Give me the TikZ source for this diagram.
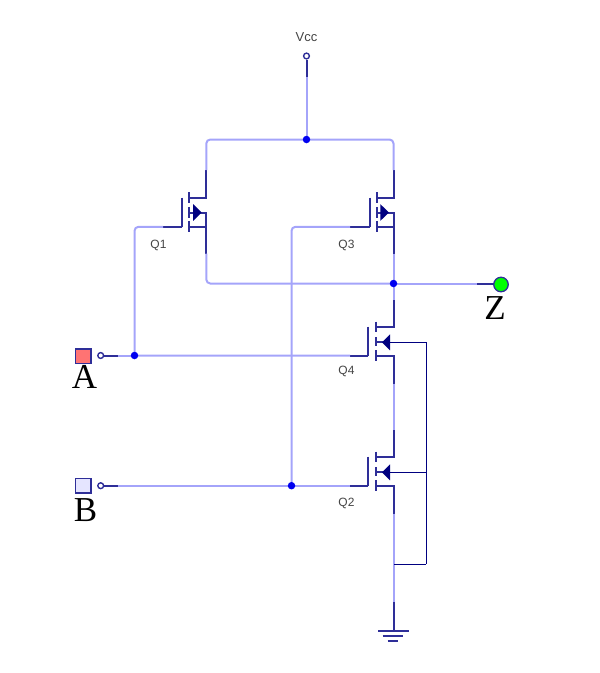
\documentclass[tikz,border=0pt]{standalone}
\usepackage{fontspec}
\setmainfont{Liberation Serif}
\newfontfamily\lblfont{Liberation Sans}
\newfontfamily\bigfont{Liberation Serif}
\definecolor{wirelight}{HTML}{A4A4FA}
\definecolor{wiredark}{HTML}{2E2E98}
\definecolor{bodynavy}{HTML}{000080}
\definecolor{dotblue}{HTML}{0000F0}
\definecolor{tagcolor}{HTML}{444444}
\tikzset{
  wire/.style={draw=wirelight,line width=2pt,rounded corners=4pt},
  lead/.style={draw=wiredark,line width=2pt},
  bodyline/.style={draw=bodynavy,line width=1pt},
  tri/.style={fill=bodynavy,draw=none},
  dot/.style={circle,fill=dotblue,draw=none,inner sep=0pt,minimum size=7.5pt},
  pin/.style={circle,fill=white,draw=wiredark,line width=1.4pt,inner sep=0pt,minimum size=5.8pt},
  port/.style={draw=wiredark,line width=1.5pt,inner sep=0pt,minimum width=15.5pt,minimum height=14.5pt},
  tag/.style={font=\lblfont\fontsize{12}{12}\selectfont,text=tagcolor,inner sep=0pt},
  bigtag/.style={font=\bigfont\fontsize{35}{35}\selectfont,text=black,inner sep=0pt},
  pmosfet/.pic={
    \draw[lead] (-24,0) -- (-24,29.3);
    \draw[lead] (-17,-5.2) -- (-17,5.8);
    \draw[lead] (-17,9.4) -- (-17,20);
    \draw[lead] (-17,23.4) -- (-17,34.4);
    \draw[lead] (0,-27.3) -- (0,0) -- (-17,0);
    \draw[lead] (-17,29.3) -- (0,29.3);
    \draw[lead] (-17,15) -- (0,15) -- (0,56);
    \draw[lead] (-24,29.3) -- (-43.3,29.3);
    \fill[tri] (-13.2,6.6) -- (-4.6,15) -- (-13.2,23.4) -- cycle;
    \coordinate (-d) at (0,-27.3);
    \coordinate (-s) at (0,56);
    \coordinate (-g) at (-43.3,29.3);
  },
  nmosfet/.pic={
    \draw[lead] (-25.2,0) -- (-25.2,29);
    \draw[lead] (-17.8,-5) -- (-17.8,5);
    \draw[lead] (-17.8,10.5) -- (-17.8,19);
    \draw[lead] (-17.8,23.5) -- (-17.8,34.5);
    \draw[lead] (0,-27) -- (0,0) -- (-17.8,0);
    \draw[lead] (-17.8,29) -- (0,29) -- (0,57);
    \draw[lead] (-25.2,29) -- (-43.5,29);
    \draw[lead] (-17.8,15.6) -- (-8,15.6);
    \fill[tri] (-3.5,7.6) -- (-11.5,15.6) -- (-3.5,23.6) -- cycle;
    \coordinate (-d) at (0,-27);
    \coordinate (-s) at (0,57);
    \coordinate (-g) at (-43.5,29);
    \coordinate (-b) at (-3.5,15.6);
  }
}
\begin{document}
\begin{tikzpicture}[x=1pt,y=-1pt]
\useasboundingbox (0,0) rectangle (600,673);

\node[pin] (vccpin) at (306.5,56) {};
\coordinate (vccstub) at (306.5,77);
\node[tag,font=\lblfont\fontsize{13}{13}\selectfont] (vcc) at (306.5,37) {Vcc};
\coordinate (jtopc) at (306.5,139.5);
\coordinate (joutc) at (393.5,283.5);
\coordinate (jac) at (134.5,355.5);
\coordinate (jbc) at (291.5,485.7);
\coordinate (astub) at (118,355.5);
\coordinate (bstub) at (118,485.7);
\coordinate (zstub) at (477,283.5);
\coordinate (zend) at (494,283.5);
\coordinate (busr) at (426,564);
\coordinate (busl) at (393.5,564);
\coordinate (gndstub) at (393.5,602);
\coordinate (gnd) at (393.5,630);
\coordinate (gnda) at (378,630.5);
\coordinate (gndb) at (408.5,630.5);
\coordinate (gndc) at (382.5,636);
\coordinate (gndd) at (402.5,636);
\coordinate (gnde) at (387.5,640.7);
\coordinate (gndf) at (397.5,640.7);

\pic (Q1) at (206.3,197.5) {pmosfet};
\pic (Q3) at (393.5,197.5) {pmosfet};
\pic (Q4) at (393.5,326.7) {nmosfet};
\pic (Q2) at (393.5,456.7) {nmosfet};

\draw[wire] (vccstub) -- (jtopc);
\draw[wire] (Q1-d) |- (jtopc);
\draw[wire] (Q3-d) |- (jtopc);
\draw[wire] (Q1-s) |- (joutc);
\draw[wire] (joutc) -- (zstub);
\draw[wire] (Q3-s) -- (joutc);
\draw[wire] (joutc) -- (Q4-d);
\draw[wire] (Q4-s) -- (Q2-d);
\draw[wire] (Q2-s) -- (gndstub);
\draw[wire] (astub) -- (jac);
\draw[wire] (jac) -- (Q4-g);
\draw[wire] (jac) |- (Q1-g);
\draw[wire] (bstub) -- (jbc);
\draw[wire] (jbc) -- (Q2-g);
\draw[wire] (jbc) |- (Q3-g);

\node[pin] (apin) at (100.7,355.5) {};
\node[pin] (bpin) at (100.7,485.7) {};
\node[port,fill=red!55!white] (A) at (83.3,356) {};
\node[port,fill=blue!10!white] (B) at (83.3,485.7) {};

\draw[lead] (vccpin) -- (vccstub);
\draw[lead] (apin) -- (astub);
\draw[lead] (bpin) -- (bstub);
\draw[lead] (zstub) -- (zend);
\draw[lead] (gndstub) -- (gnd);
\draw[lead] (gnda) -- (gndb);
\draw[lead] (gndc) -- (gndd);
\draw[lead] (gnde) -- (gndf);

\node[circle,fill=green,draw=wiredark,line width=1.3pt,inner sep=0pt,minimum size=14.5pt] (Z) at (501,284.5) {};

\draw[bodyline] (Q4-b) -| (busr);
\draw[bodyline] (Q2-b) -- (Q2-b -| busr);
\draw[bodyline] (busr) -- (busl);

\node[tag] (lq1) at (158.5,245) {Q1};
\node[tag] (lq3) at (346.5,245) {Q3};
\node[tag] (lq4) at (346.5,371.5) {Q4};
\node[tag] (lq2) at (346.5,503) {Q2};
\node[bigtag] (la) at (84.5,376.5) {A};
\node[bigtag] (lb) at (85.5,510) {B};
\node[bigtag] (lz) at (495,308.5) {Z};

\node[dot] (jtop) at (jtopc) {};
\node[dot] (jout) at (joutc) {};
\node[dot] (ja) at (jac) {};
\node[dot] (jb) at (jbc) {};
\end{tikzpicture}
\end{document}
